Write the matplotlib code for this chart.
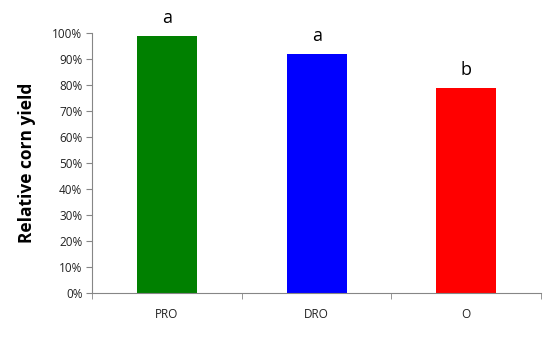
import matplotlib
matplotlib.use('Agg')
import matplotlib.pyplot as plt
from matplotlib.ticker import PercentFormatter, FixedLocator

categories = ['PRO', 'DRO', 'O']
yields = [0.99, 0.92, 0.79]
letters = ['a', 'a', 'b']
colors = ['#008000', '#0000FF', '#FF0000']

plt.rcParams['font.family'] = ['Open Sans', 'DejaVu Sans']

fig = plt.figure(figsize=(5.55, 3.48), dpi=100)
ax = fig.add_axes([0.166, 0.158, 0.809, 0.747])

pos = [i + 0.5 for i in range(len(categories))]
ax.bar(pos, yields, width=0.4, color=colors)

for x, v, s in zip(pos, yields, letters):
    ax.text(x, v + 0.035, s, ha='center', va='bottom', fontsize=13, color='black')

ax.set_xlim(0, len(categories))
ax.set_ylim(0, 1.0)
ax.set_yticks([i / 10 for i in range(11)])
ax.yaxis.set_major_formatter(PercentFormatter(1.0, decimals=0))

ax.set_xticks(pos)
ax.set_xticklabels(categories)
ax.xaxis.set_minor_locator(FixedLocator(range(len(categories) + 1)))
ax.tick_params(axis='x', which='major', length=0, pad=11, labelsize=8.5, labelcolor='#222222')
ax.tick_params(axis='x', which='minor', length=4, color='#868686', direction='out')
ax.tick_params(axis='y', length=4, color='#868686', labelsize=8.5, pad=3, labelcolor='#222222')

for side in ['top', 'right']:
    ax.spines[side].set_visible(False)
for side in ['left', 'bottom']:
    ax.spines[side].set_color('#868686')

ax.set_ylabel('Relative corn yield', fontsize=12.5, fontweight='bold', labelpad=12)

fig.savefig('out.png', dpi=100)
